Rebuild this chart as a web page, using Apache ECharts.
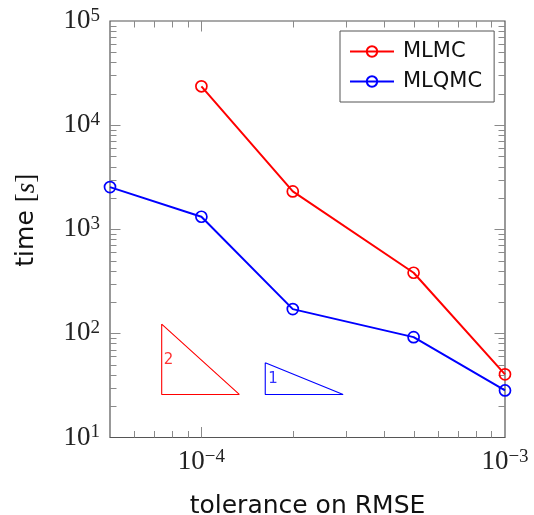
<!DOCTYPE html>
<html>
<head>
<meta charset="utf-8">
<script src="https://cdn.jsdelivr.net/npm/echarts@6/dist/echarts.min.js"></script>
<style>
  html, body { margin: 0; padding: 0; background: #fff; }
  #chart { width: 534px; height: 515px; }
</style>
</head>
<body>
<div id="chart"></div>
<script>
// Run time against requested RMSE tolerance
const seriesNames = ['MLMC', 'MLQMC'];
const mlmcTolerance = [1e-4, 2e-4, 5e-4, 1e-3];
const mlmcTime = [23600, 2310, 382, 40.4];
const mlqmcTolerance = [5e-5, 1e-4, 2e-4, 5e-4, 1e-3];
const mlqmcTime = [2540, 1318, 171, 92, 28.3];

// Reference slope triangles (closed outlines) and their labels
const slope2X = [7.4e-5, 7.4e-5, 1.333e-4, 7.4e-5];
const slope2Y = [122.8, 25.9, 25.9, 122.8];
const slope2Label = [7.8e-5, 55.5, '2'];
const slope1X = [1.623e-4, 1.623e-4, 2.93e-4, 1.623e-4];
const slope1Y = [52.2, 25.9, 25.9, 52.2];
const slope1Label = [1.72e-4, 36.4, '1'];

// Axis ranges and tick positions
const xRange = [5e-5, 1e-3];
const yRange = [1e1, 1e5];
const xMajorTicks = [1e-4];
const xMinorTicks = [6e-5, 7e-5, 8e-5, 9e-5, 2e-4, 3e-4, 4e-4, 5e-4, 6e-4, 7e-4, 8e-4, 9e-4];
const yMajorTicks = [1e2, 1e3, 1e4];
const yDecades = [1e1, 1e2, 1e3, 1e4];
const mantissas = [2, 3, 4, 5, 6, 7, 8, 9];
const yMinorTicks = [];
yDecades.forEach(d => mantissas.forEach(m => yMinorTicks.push(m * d)));

const SANS = 'DejaVu Sans';
const SERIF = 'Liberation Serif';
const RED = '#ff0000';
const BLUE = '#0000ff';
const TICK_COLOR = '#8a8a8a';
const FRAME_COLOR = '#555555';

function powLabel(v) {
  const e = Math.log10(v);
  const r = Math.round(e);
  if (Math.abs(e - r) > 1e-6) return '';
  const exp = r < 0 ? '\u2212' + Math.abs(r) : String(r);
  return '{b|10}{e|' + exp + '}';
}

const labelRich = {
  b: { fontFamily: SERIF, fontSize: 27, lineHeight: 29, color: '#222' },
  e: { fontFamily: SERIF, fontSize: 19, lineHeight: 19, verticalAlign: 'top', color: '#222' }
};

// Inward tick marks on all four sides of the frame
function tickSeries(values, dir, len) {
  return {
    type: 'custom',
    silent: true,
    z: 1,
    clip: false,
    data: values.map(v => dir === 'x' ? [v, yRange[0]] : [xRange[0], v]),
    renderItem: (params, api) => {
      const cs = params.coordSys;
      const style = { stroke: TICK_COLOR, lineWidth: 1 };
      if (dir === 'x') {
        const px = Math.round(api.coord([api.value(0), yRange[0]])[0]) + 0.5;
        const bottom = cs.y + cs.height;
        return { type: 'group', children: [
          { type: 'line', shape: { x1: px, y1: bottom, x2: px, y2: bottom - len }, style },
          { type: 'line', shape: { x1: px, y1: cs.y, x2: px, y2: cs.y + len }, style }
        ] };
      }
      const py = Math.round(api.coord([xRange[0], api.value(1)])[1]) + 0.5;
      const right = cs.x + cs.width;
      return { type: 'group', children: [
        { type: 'line', shape: { x1: cs.x, y1: py, x2: cs.x + len, y2: py }, style },
        { type: 'line', shape: { x1: right, y1: py, x2: right - len, y2: py }, style }
      ] };
    }
  };
}

function dataSeries(name, xs, ys, color) {
  return {
    name,
    type: 'line',
    z: 5,
    data: xs.map((x, i) => [x, ys[i]]),
    symbol: 'circle',
    symbolSize: 11,
    lineStyle: { color, width: 2 },
    itemStyle: { color: 'rgba(0,0,0,0)', borderColor: color, borderWidth: 1.7 },
    emphasis: { disabled: true },
    animation: false
  };
}

function triangleSeries(xs, ys, color) {
  return {
    type: 'line',
    silent: true,
    z: 3,
    data: xs.map((x, i) => [x, ys[i]]),
    symbol: 'none',
    lineStyle: { color, width: 1.1 },
    animation: false
  };
}

function slopeLabel(point, color) {
  return {
    type: 'scatter',
    silent: true,
    z: 4,
    data: [[point[0], point[1]]],
    symbolSize: 1,
    itemStyle: { color: 'rgba(0,0,0,0)' },
    label: {
      show: true, position: 'inside', formatter: point[2],
      color, fontFamily: SANS, fontSize: 15
    },
    animation: false
  };
}

const chart = echarts.init(document.getElementById('chart'), null, { renderer: 'canvas' });
chart.setOption({
  animation: false,
  backgroundColor: '#fff',
  grid: {
    left: 110, right: 29, top: 21, bottom: 77.5,
    outerBoundsMode: 'none',
    containLabel: false,
    show: true, borderColor: FRAME_COLOR, borderWidth: 1.2, backgroundColor: 'transparent'
  },
  legend: {
    data: seriesNames,
    orient: 'vertical',
    left: 340, top: 31,
    padding: [10, 12, 10, 9],
    itemGap: 9,
    itemWidth: 44, itemHeight: 13,
    borderColor: FRAME_COLOR, borderWidth: 1,
    backgroundColor: '#fff',
    textStyle: { fontFamily: SANS, fontSize: 21, lineHeight: 21, color: '#111', padding: [0, 0, 0, 4] }
  },
  xAxis: {
    type: 'log', logBase: 10,
    min: xRange[0], max: xRange[1],
    name: 'tolerance on RMSE',
    nameLocation: 'middle', nameGap: 56,
    nameTextStyle: { fontFamily: SANS, fontSize: 25, color: '#111' },
    axisLine: { show: false },
    axisTick: { show: false },
    splitLine: { show: false },
    minorTick: { show: false },
    axisLabel: { formatter: powLabel, margin: 10, showMinLabel: true, showMaxLabel: true, hideOverlap: false, rich: labelRich }
  },
  yAxis: {
    type: 'log', logBase: 10,
    min: yRange[0], max: yRange[1],
    name: '{a|time }{m|[}{i|s}{m|]}',
    nameLocation: 'middle', nameGap: 70, nameRotate: 90,
    nameTextStyle: {
      padding: [0, 0, 0, 18],
      rich: {
        a: { fontFamily: SANS, fontSize: 25, color: '#111' },
        m: { fontFamily: SERIF, fontSize: 27, color: '#111' },
        i: { fontFamily: SERIF, fontSize: 27, fontStyle: 'italic', color: '#111' }
      }
    },
    axisLine: { show: false },
    axisTick: { show: false },
    splitLine: { show: false },
    minorTick: { show: false },
    axisLabel: { formatter: powLabel, margin: 10, showMinLabel: true, showMaxLabel: true, hideOverlap: false, rich: labelRich }
  },
  series: [
    tickSeries(xMajorTicks, 'x', 10.5),
    tickSeries(xMinorTicks, 'x', 6.5),
    tickSeries(yMajorTicks, 'y', 10.5),
    tickSeries(yMinorTicks, 'y', 6.5),
    triangleSeries(slope2X, slope2Y, RED),
    triangleSeries(slope1X, slope1Y, BLUE),
    slopeLabel(slope2Label, RED),
    slopeLabel(slope1Label, BLUE),
    dataSeries(seriesNames[0], mlmcTolerance, mlmcTime, RED),
    dataSeries(seriesNames[1], mlqmcTolerance, mlqmcTime, BLUE)
  ]
});
</script>
</body>
</html>
